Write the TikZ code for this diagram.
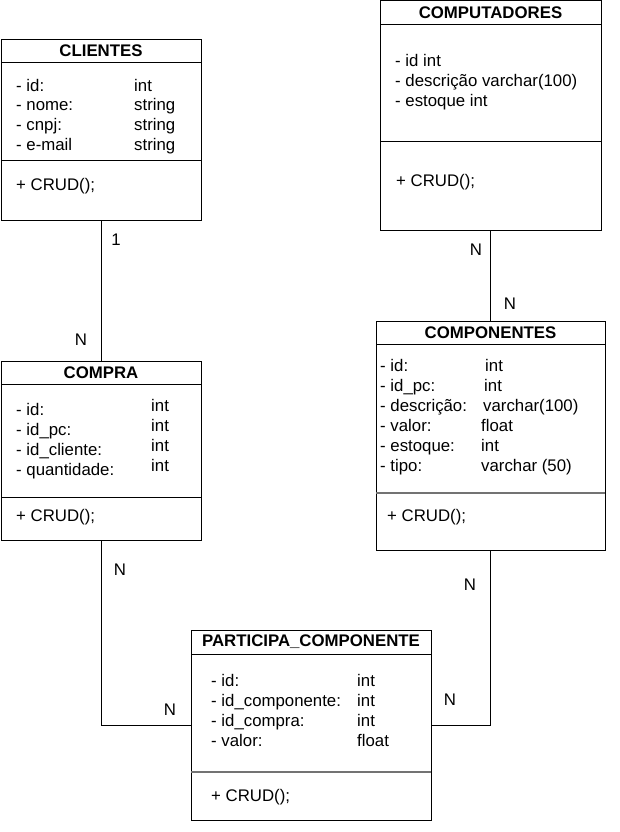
\documentclass[tikz,border=0pt]{standalone}
\usepackage{fontspec}
\setmainfont{Liberation Sans}
\begin{document}
\begin{tikzpicture}[x=1pt, y=-1pt,
    box/.style={draw, rectangle, inner sep=0pt, line width=1pt},
    title/.style={inner sep=0pt, font=\bfseries\fontsize{16.8}{20}\selectfont},
    attr/.style={anchor=west, inner sep=0pt, text height=12.5pt, text depth=3.5pt, font=\fontsize{16.8}{20}\selectfont},
    mult/.style={inner sep=0pt, font=\fontsize{16.8}{20}\selectfont},
    graysep/.style={draw=black!55, line width=2pt}]
    \useasboundingbox (0,0) rectangle (619,832);

    % Tables
    \node[box, minimum width=200pt, minimum height=180pt] (clientes) at (101,130) {};
    \node[box, minimum width=221pt, minimum height=229pt] (computadores) at (490.5,115.5) {};
    \node[box, minimum width=229pt, minimum height=229pt] (componentes) at (490.5,435.5) {};
    \node[box, minimum width=200pt, minimum height=179pt] (compra) at (101,450.5) {};
    \node[box, minimum width=240pt, minimum height=190pt] (participa) at (311,725) {};

    % Titles
    \node[title] (clientesT) at (101,51) {CLIENTES};
    \node[title] (computadoresT) at (490.5,12.5) {COMPUTADORES};
    \node[title] (componentesT) at (490.5,332.5) {COMPONENTES};
    \node[title] (compraT) at (101,373) {COMPRA};
    \node[title] (participaT) at (311,642) {PARTICIPA\_COMPONENTE};

    % Separators
    \draw (1,62) -- (201,62);
    \draw (1,160) -- (201,160);
    \draw (380,24) -- (601,24);
    \draw (380,141) -- (601,141);
    \draw (376,344) -- (605,344);
    \draw[graysep] (376,493) -- (605,493);
    \draw (1,384) -- (201,384);
    \draw (1,497) -- (201,497);
    \draw (191,654) -- (431,654);
    \draw[graysep] (191,772) -- (431,772);

    % CLIENTES
    \node[attr] (cli1) at (16,87) {- id:};
    \node[attr] (cli2) at (16,106) {- nome:};
    \node[attr] (cli3) at (16,126) {- cnpj:};
    \node[attr] (cli4) at (16,146) {- e-mail};
    \node[attr] (cliT1) at (134,87) {int};
    \node[attr] (cliT2) at (134,106) {string};
    \node[attr] (cliT3) at (134,126) {string};
    \node[attr] (cliT4) at (134,146) {string};
    \node[attr] (cliM) at (16,186) {+ CRUD();};

    % COMPUTADORES
    \node[attr] (pc1) at (395,62) {- id int};
    \begin{scope}
        \clip (380,0) rectangle (575,232);
        \node[attr] (pc2) at (395,82) {- descrição varchar(100)};
    \end{scope}
    \node[attr] (pc3) at (395,102) {- estoque int};
    \node[attr] (pcM) at (396,182) {+ CRUD();};

    % COMPONENTES
    \node[attr] (cp1) at (380,367) {- id:};
    \node[attr] (cp2) at (380,387) {- id\_pc:};
    \node[attr] (cp3) at (380,407) {- descrição:};
    \node[attr] (cp4) at (380,427) {- valor:};
    \node[attr] (cp5) at (380,447) {- estoque:};
    \node[attr] (cp6) at (380,467) {- tipo:};
    \node[attr] (cpT1) at (485,367) {int};
    \node[attr] (cpT2) at (484,387) {int};
    \node[attr] (cpT3) at (483,407) {varchar(100)};
    \node[attr] (cpT4) at (481,427) {float};
    \node[attr] (cpT5) at (481,447) {int};
    \node[attr] (cpT6) at (481,467) {varchar (50)};
    \node[attr] (cpM) at (387,517) {+ CRUD();};

    % COMPRA
    \node[attr] (co1) at (16,411) {- id:};
    \node[attr] (co2) at (16,431) {- id\_pc:};
    \node[attr] (co3) at (16,451) {- id\_cliente:};
    \node[attr] (co4) at (16,471) {- quantidade:};
    \node[attr] (coT1) at (151,407) {int};
    \node[attr] (coT2) at (151,427) {int};
    \node[attr] (coT3) at (151,447) {int};
    \node[attr] (coT4) at (151,467) {int};
    \node[attr] (coM) at (16,517) {+ CRUD();};

    % PARTICIPA_COMPONENTE
    \node[attr] (pa1) at (211,682) {- id:};
    \node[attr] (pa2) at (211,702) {- id\_componente:};
    \node[attr] (pa3) at (211,722) {- id\_compra:};
    \node[attr] (pa4) at (211,742) {- valor:};
    \node[attr] (paT1) at (357,682) {int};
    \node[attr] (paT2) at (357,702) {int};
    \node[attr] (paT3) at (357,722) {int};
    \node[attr] (paT4) at (357,742) {float};
    \node[attr] (paM) at (211,797) {+ CRUD();};

    % Relations
    \draw (clientes.south) -- (compra.north);
    \draw (computadores.south) -- (componentes.north);
    \draw (compra.south) |- (participa.west);
    \draw (componentes.south) |- (participa.east);

    % Multiplicities
    \node[mult] at (116,240) {1};
    \node[mult] at (81,340) {N};
    \node[mult] at (476,250) {N};
    \node[mult] at (510,304) {N};
    \node[mult] at (120,570) {N};
    \node[mult] at (170,710) {N};
    \node[mult] at (470,585) {N};
    \node[mult] at (450,700) {N};
\end{tikzpicture}
\end{document}
